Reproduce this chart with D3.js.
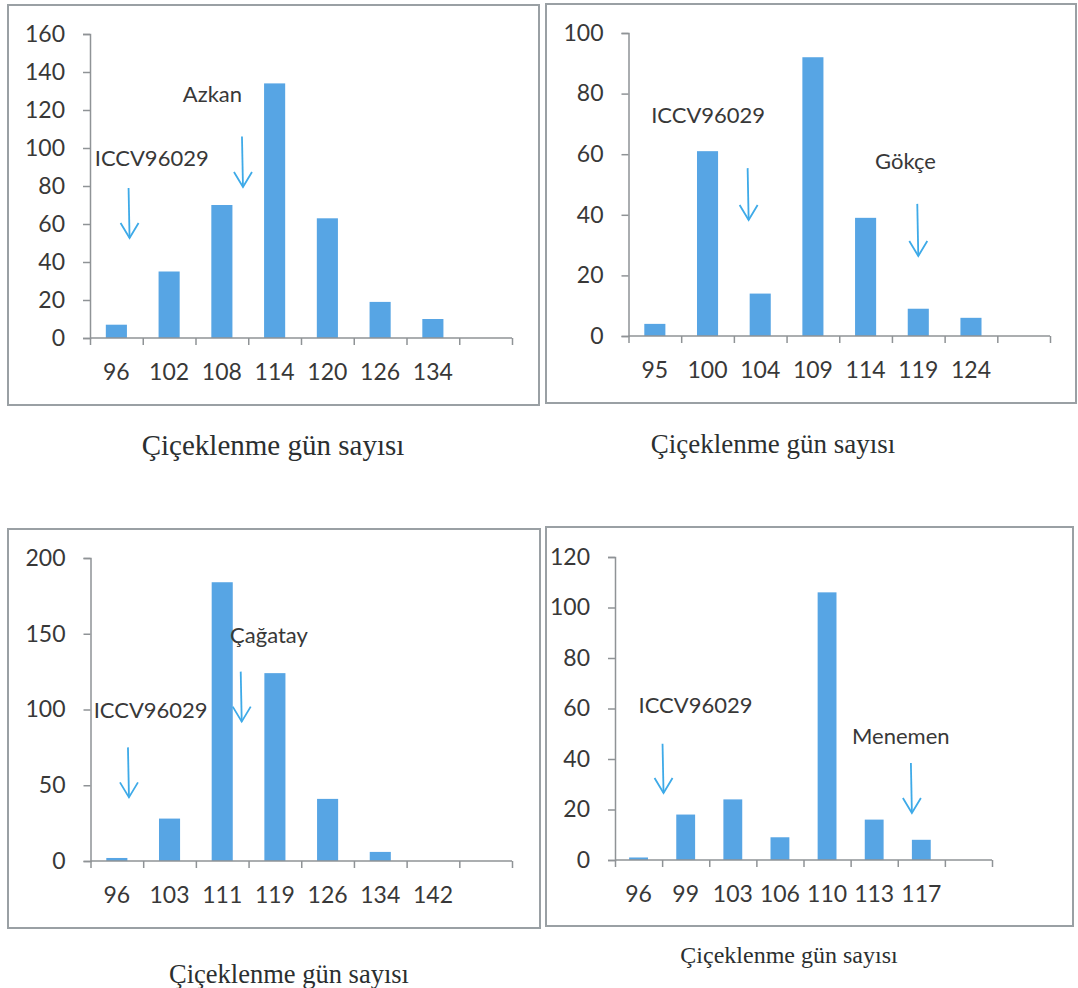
<!DOCTYPE html>
<html>
<head>
<meta charset="utf-8">
<script src="https://cdn.jsdelivr.net/npm/d3@7"></script>
<style>
  body { margin: 0; background: #fff; }
  svg { display: block; }
  .tick text { font-family: Lato, "Open Sans", sans-serif; }
</style>
</head>
<body>
<svg width="1078" height="988"></svg>
<script>
// day classes (last slot is an empty category, like the excel sheet)
var days1 = ["96", "102", "108", "114", "120", "126", "134", ""];
var counts1 = [7, 35, 70, 134, 63, 19, 10];
var days2 = ["95", "100", "104", "109", "114", "119", "124", ""];
var counts2 = [4, 61, 14, 92, 39, 9, 6];
var days3 = ["96", "103", "111", "119", "126", "134", "142", ""];
var counts3 = [2, 28, 184, 124, 41, 6, 0];
var days4 = ["96", "99", "103", "106", "110", "113", "117", ""];
var counts4 = [1, 18, 24, 9, 106, 16, 8];

var yMax = [160, 100, 200, 120];
var yStep = [20, 20, 50, 20];

// annotations: text pos (slot, value), arrow (slot, top value, tip value)
var notes1 = [
  { text: "ICCV96029", tx: 0.09, ty: 90.5, ax: 0.75, top: 79, tip: 52.6 },
  { text: "Azkan", tx: 1.76, ty: 124, ax: 2.9, top: 106, tip: 79.5 }
];
var notes2 = [
  { text: "ICCV96029", tx: 0.43, ty: 70.3, ax: 2.28, top: 55.4, tip: 38.3 },
  { text: "Gökçe", tx: 4.68, ty: 55, ax: 5.5, top: 43.6, tip: 26.4 }
];
var notes3 = [
  { text: "ICCV96029", tx: 0.06, ty: 94.4, ax: 0.73, top: 75, tip: 42 },
  { text: "Çağatay", tx: 2.65, ty: 144, ax: 2.87, top: 125, tip: 92 }
];
var notes4 = [
  { text: "ICCV96029", tx: 0.5, ty: 58.2, ax: 1.03, top: 46, tip: 26.5 },
  { text: "Menemen", tx: 5.03, ty: 46, ax: 6.3, top: 38.4, tip: 18.6 }
];

var caption = "Çiçeklenme gün sayısı";

var svg = d3.select("svg");

// layout of each panel
var panels = [
  { days: days1, counts: counts1, notes: notes1, box: [8, 5, 539, 405], plot: [90, 34, 512, 338], cap: [273, 455, 29] },
  { days: days2, counts: counts2, notes: notes2, box: [546, 4, 1076, 403], plot: [628.5, 33, 1050, 336], cap: [773, 453, 27] },
  { days: days3, counts: counts3, notes: notes3, box: [8, 529, 540, 928], plot: [90.5, 558, 512, 861], cap: [289, 983, 26.5] },
  { days: days4, counts: counts4, notes: notes4, box: [546, 527, 1073, 926], plot: [615, 557, 992, 860], cap: [789, 963, 24] }
];

var barColor = "#57a5e4";
var arrowColor = "#3eaae8";
var axisColor = "#8f9396";
var textColor = "#383838";

panels.forEach(function(p, k) {
  var g = svg.append("g");

  g.append("rect")
    .attr("x", p.box[0]).attr("y", p.box[1])
    .attr("width", p.box[2] - p.box[0]).attr("height", p.box[3] - p.box[1])
    .attr("fill", "none")
    .attr("stroke", "#9aa0a4")
    .attr("stroke-width", 2);

  var left = p.plot[0], top = p.plot[1], right = p.plot[2], bottom = p.plot[3];

  var x = d3.scaleBand()
    .domain(p.days)
    .range([left, right])
    .paddingInner(0.6)
    .paddingOuter(0.3);
  var slot = d3.scaleLinear().domain([0, p.days.length]).range([left, right]);
  var y = d3.scaleLinear().domain([0, yMax[k]]).range([bottom, top]);

  // bars
  g.selectAll(".bar")
    .data(p.counts)
    .enter()
    .append("rect")
    .attr("class", "bar")
    .attr("x", function(d, i) { return x(p.days[i]); })
    .attr("width", x.bandwidth())
    .attr("y", function(d) { return y(d); })
    .attr("height", function(d) { return bottom - y(d); })
    .attr("fill", barColor);

  // y axis
  var yAxis = g.append("g")
    .attr("transform", "translate(" + left + ",0)")
    .call(d3.axisLeft(y).tickValues(d3.range(0, yMax[k] + 1, yStep[k])).tickSize(7).tickPadding(18));

  // x axis: ticks between categories
  var xTicks = g.append("g")
    .attr("transform", "translate(0," + bottom + ")")
    .call(d3.axisBottom(slot).tickValues(d3.range(0, p.days.length + 1)).tickSize(7).tickFormat(""));

  var xLabels = g.append("g")
    .attr("transform", "translate(0," + bottom + ")")
    .call(d3.axisBottom(x).tickSize(0).tickPadding(26));

  [yAxis, xTicks, xLabels].forEach(function(a) {
    a.selectAll("path").attr("stroke", axisColor).attr("stroke-width", 1.5);
    a.selectAll("line").attr("stroke", axisColor).attr("stroke-width", 1.5);
    a.selectAll("text")
      .attr("fill", textColor)
      .style("font-size", "23px");
  });
  xTicks.select("path").attr("d", "M" + left + ",0H" + right);
  xLabels.select("path").remove();

  // annotations
  p.notes.forEach(function(n) {
    g.append("text")
      .attr("x", slot(n.tx))
      .attr("y", y(n.ty))
      .attr("fill", textColor)
      .style("font-family", "Lato, 'Open Sans', sans-serif")
      .style("font-size", "22px")
      .text(n.text);

    var ax = slot(n.ax), yTop = y(n.top), yTip = y(n.tip);
    g.append("line")
      .attr("x1", ax - 1).attr("y1", yTop)
      .attr("x2", ax).attr("y2", yTip)
      .attr("stroke", arrowColor)
      .attr("stroke-width", 1.8);
    g.append("path")
      .attr("d", "M" + (ax - 9) + "," + (yTip - 15) + "L" + ax + "," + yTip + "L" + (ax + 9) + "," + (yTip - 15))
      .attr("fill", "none")
      .attr("stroke", arrowColor)
      .attr("stroke-width", 1.8);
  });

  svg.append("text")
    .attr("x", p.cap[0])
    .attr("y", p.cap[1])
    .attr("text-anchor", "middle")
    .attr("fill", "#2b2f30")
    .style("font-family", "'Liberation Serif', 'DejaVu Serif', serif")
    .style("font-size", p.cap[2] + "px")
    .text(caption);
});
</script>
</body>
</html>
